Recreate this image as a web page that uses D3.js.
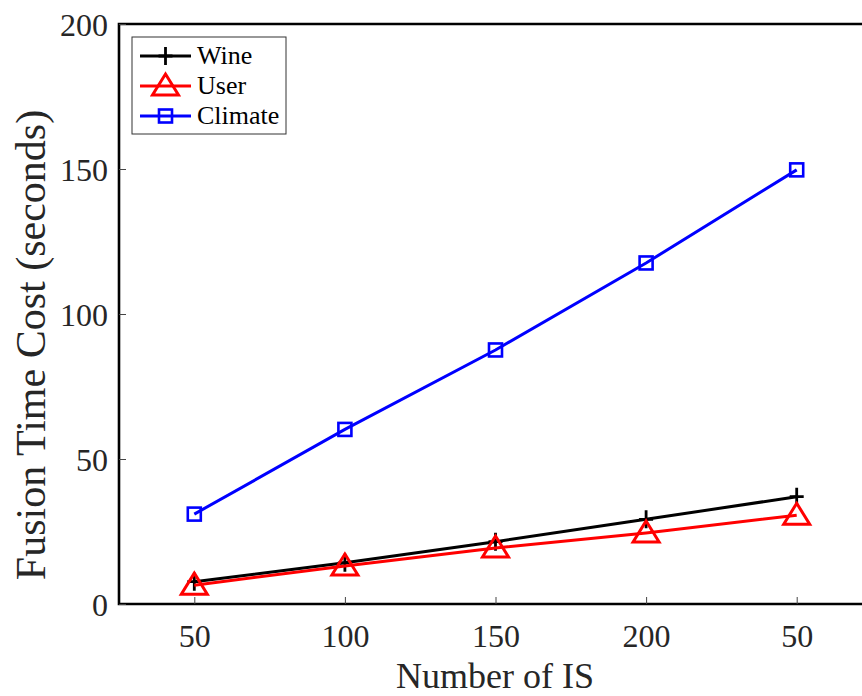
<!DOCTYPE html>
<html lang="en">
<head>
    <meta charset="UTF-8">
    <title>Fusion Time Cost vs Number of IS</title>
    <script src="https://d3js.org/d3.v7.min.js"></script>
    <style>
        body {
            margin: 0;
            background: #fff;
            overflow: hidden;
        }
        svg {
            font-family: "Liberation Serif", "Times New Roman", serif;
        }
    </style>
</head>
<body>
<svg width="862" height="696"></svg>
<script>
    // data
    const positions = [1, 2, 3, 4, 5];
    const tickLabels = ["50", "100", "150", "200", "50"];
    const wine = [7.7, 14.2, 21.5, 29.2, 37.0];
    const user = [6.5, 13.1, 19.3, 24.5, 30.6];
    const climate = [31.0, 60.2, 87.6, 117.6, 149.7];
    const yTicks = [0, 50, 100, 150, 200];

    const series = [
        { name: "Wine", values: wine, color: "#000000", marker: "plus" },
        { name: "User", values: user, color: "#ff0000", marker: "triangle" },
        { name: "Climate", values: climate, color: "#0000ff", marker: "square" }
    ];

    const svg = d3.select("svg");
    const margin = { top: 24, left: 119, bottom: 92 };

    const x = d3.scaleLinear().domain([0.5, 5.5]).range([margin.left, 872]);
    const y = d3.scaleLinear().domain([0, 200]).range([696 - margin.bottom, margin.top]);

    // frame (right side is cut off in the original)
    svg.append("path")
        .attr("d", `M${x(5.5) + 10},${y(200)} H${x(0.5)} V${y(0)} H${x(5.5) + 10}`)
        .attr("fill", "none")
        .attr("stroke", "#000")
        .attr("stroke-width", 2.6);

    // x axis ticks (inward) + labels
    const xAxis = svg.append("g")
        .attr("transform", `translate(0,${y(0)})`)
        .call(d3.axisBottom(x).tickValues(positions)
            .tickSizeInner(-7).tickSizeOuter(0)
            .tickFormat((d, i) => tickLabels[i]));
    xAxis.select(".domain").remove();
    xAxis.selectAll("line").attr("stroke", "#444").attr("stroke-width", 1);
    xAxis.selectAll("text")
        .attr("y", 43).attr("dy", 0)
        .attr("font-size", 32).attr("fill", "#262626")
        .attr("font-family", "Liberation Serif, serif");

    // y axis ticks (inward) + labels
    const yAxis = svg.append("g")
        .attr("transform", `translate(${x(0.5)},0)`)
        .call(d3.axisLeft(y).tickValues(yTicks)
            .tickSizeInner(-7).tickSizeOuter(0).tickPadding(11));
    yAxis.select(".domain").remove();
    yAxis.selectAll("line").attr("stroke", "#444").attr("stroke-width", 1);
    yAxis.selectAll("text")
        .attr("dy", "0.35em")
        .attr("font-size", 32).attr("fill", "#262626")
        .attr("font-family", "Liberation Serif, serif");

    // axis titles
    svg.append("text")
        .attr("x", 495)
        .attr("y", 688)
        .attr("text-anchor", "middle")
        .attr("font-size", 36)
        .attr("fill", "#262626")
        .text("Number of IS");

    svg.append("text")
        .attr("transform", "translate(45,345) rotate(-90)")
        .attr("text-anchor", "middle")
        .attr("font-size", 42)
        .attr("fill", "#262626")
        .text("Fusion Time Cost (seconds)");

    function drawMarker(g, type, color) {
        if (type === "plus") {
            g.append("path").attr("d", "M-7,0H7M0,-9V9")
                .attr("stroke", color).attr("stroke-width", 2.8).attr("fill", "none");
        } else if (type === "triangle") {
            g.append("path").attr("d", "M0,-12L13,9H-13Z")
                .attr("stroke", color).attr("stroke-width", 3).attr("fill", "none");
        } else {
            g.append("rect").attr("x", -6.5).attr("y", -6.5).attr("width", 13).attr("height", 13)
                .attr("stroke", color).attr("stroke-width", 2.6).attr("fill", "none");
        }
    }

    const line = d3.line().x((d, i) => x(positions[i])).y(d => y(d));

    series.forEach(s => {
        svg.append("path")
            .datum(s.values)
            .attr("d", line)
            .attr("fill", "none")
            .attr("stroke", s.color)
            .attr("stroke-width", 3);
        s.values.forEach((v, i) => {
            const g = svg.append("g").attr("transform", `translate(${x(positions[i])},${y(v)})`);
            drawMarker(g, s.marker, s.color);
        });
    });

    // legend
    const legend = svg.append("g").attr("transform", "translate(132,37)");
    legend.append("rect")
        .attr("width", 154).attr("height", 97)
        .attr("fill", "#fff").attr("stroke", "#333").attr("stroke-width", 1);
    series.forEach((s, i) => {
        const ly = 19 + i * 30;
        legend.append("line")
            .attr("x1", 8).attr("x2", 59).attr("y1", ly).attr("y2", ly)
            .attr("stroke", s.color).attr("stroke-width", 3);
        const g = legend.append("g").attr("transform", `translate(33.5,${ly})`);
        drawMarker(g, s.marker, s.color);
        legend.append("text")
            .attr("x", 65).attr("y", ly + 8)
            .attr("font-size", 26)
            .attr("fill", "#000")
            .text(s.name);
    });
</script>
</body>
</html>
